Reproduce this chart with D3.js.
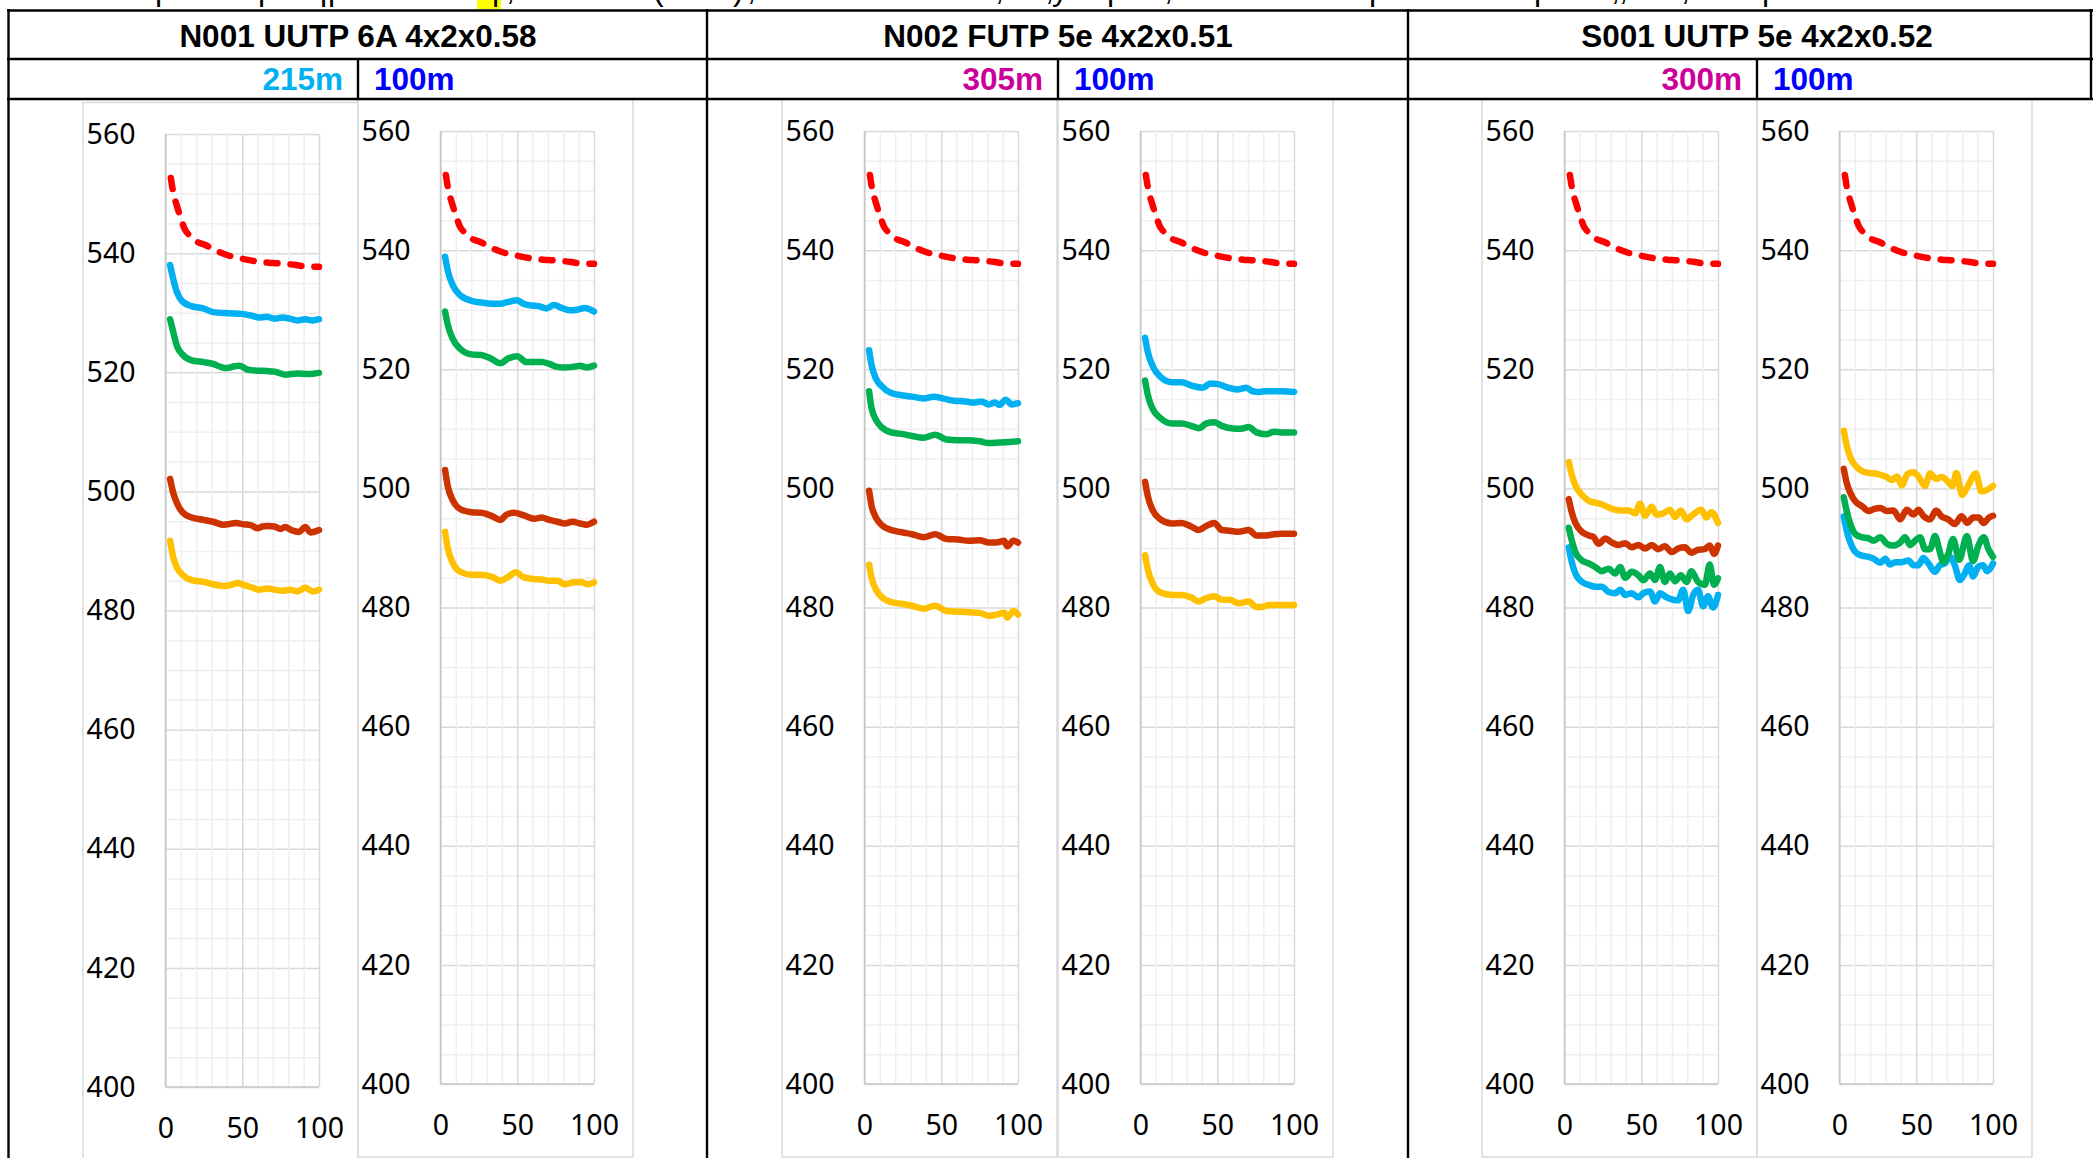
<!DOCTYPE html>
<html>
<head>
<meta charset="utf-8">
<script src="https://cdn.jsdelivr.net/npm/d3@7"></script>
<style>
	body { margin: 0; background: #fff; overflow: hidden; }
	svg { display: block; }
</style>
</head>
<body>
<div id="sheet"></div>
<script>
// ---- data (x = 0..100, y = 400..560) ----
const titles = ["N001 UUTP 6A 4x2x0.58", "N002 FUTP 5e 4x2x0.51", "S001 UUTP 5e 4x2x0.52"];
const lengthLeft = ["215m", "305m", "300m"];
const lengthLeftColor = ["#00b0f0", "#cc0099", "#cc0099"];
const lengthRight = ["100m", "100m", "100m"];
const yTicks = [400, 420, 440, 460, 480, 500, 520, 540, 560];
const xTicks = [0, 50, 100];

// limit curve, same in every chart
const limitLine = [[3.5,552.6],[5.5,549.6],[7,548.3],[10.7,545.3],[12.4,544.1],[16,542.9],[19.9,542],[25.6,541.4],[34.8,540.2],[41,539.6],[51,539],[57,538.7],[67,538.4],[73,538.3],[85,538],[90,537.8],[100,537.7]];

// N001 215m
const n001aBlue = [[3,538],[5,535.7],[7.5,533.4],[11,531.9],[17,531.1],[25,530.7],[31,530.1],[41,529.9],[50,529.8],[56,529.5],[61,529.2],[66,529.3],[71,529],[76,529.2],[81,529],[86,528.7],[91,528.9],[96,528.7],[100,528.9]];
const n001aGreen = [[3,528.9],[5,526.8],[7.5,524.4],[11,523],[17,522],[25,521.7],[31,521.4],[36,520.9],[40,520.7],[45,521],[48,521.1],[53,520.5],[58,520.3],[66,520.2],[71,520.1],[78,519.6],[86,519.8],[93,519.7],[100,519.9]];
const n001aBrown = [[3,502.1],[5,499.8],[7.5,498],[11,496.5],[17,495.6],[25,495.2],[31,494.9],[38,494.4],[46,494.7],[50,494.5],[56,494.3],[60,493.8],[63,494.1],[67,494.2],[71,494.1],[75,493.7],[78,494],[82,493.5],[87,493.2],[91,494],[94.5,493.1],[100,493.5]];
const n001aYellow = [[3,491.7],[5,489],[7.5,487.2],[11,486],[17,485.1],[25,484.8],[31,484.4],[38,484.1],[43,484.3],[47,484.6],[51,484.3],[56,483.9],[61,483.5],[66,483.7],[71,483.5],[76,483.3],[81,483.5],[86,483.2],[91,483.8],[96,483.2],[100,483.5]];

// N001 100m
const n001bBlue = [[3,538.9],[4.7,536.6],[8,534.1],[13,532.4],[20,531.5],[26.6,531.2],[34,531],[39,531],[44,531.3],[50,531.6],[54,531],[59,530.7],[64,530.6],[69,530.2],[74,530.8],[79,530.3],[84,529.9],[89,530],[94,530.3],[100,529.7]];
const n001bGreen = [[3,529.7],[4.7,527.5],[8,525.1],[13,523.4],[20,522.5],[26.6,522.4],[32.8,521.8],[39,521],[44,521.8],[50,522.2],[56,521.2],[61,521.2],[66,521.2],[71,520.9],[76,520.4],[81,520.3],[86,520.4],[91,520.6],[95,520.3],[100,520.6]];
const n001bBrown = [[3,503.1],[4.7,500.4],[8,498],[13,496.5],[20,496],[26.6,495.9],[34,495.3],[39,494.7],[43,495.6],[48,495.9],[54,495.5],[61,494.9],[66,495.1],[71,494.7],[76,494.4],[81,494.1],[86,494.4],[91,494.1],[95,493.9],[100,494.4]];
const n001bYellow = [[3,492.7],[4.7,490],[8,487.5],[13,486],[20,485.5],[26.6,485.5],[34,485.1],[39,484.5],[44,485.1],[49,485.9],[54,485.1],[60,484.8],[66,484.7],[71,484.5],[76,484.5],[81,483.9],[86,484.2],[91,484.3],[96,483.9],[100,484.2]];

// N002 305m
const n002aBlue = [[3,523.2],[4.5,520.8],[7.5,518.4],[11,517.2],[17.4,516],[25,515.6],[31,515.4],[38.5,515.1],[45,515.4],[51,515.1],[58.5,514.7],[66,514.6],[71,514.4],[76,514.6],[81,514.1],[85,514.4],[88,514],[92,514.9],[96,514.1],[100,514.3]];
const n002aGreen = [[3,516.3],[4.5,513.6],[7.5,511.5],[11,510.3],[17.4,509.4],[25,509.1],[31,508.8],[38.5,508.5],[46,509],[53.5,508.2],[61,508.1],[68,508.1],[75,507.9],[81,507.6],[88,507.7],[94.5,507.8],[100,507.9]];
const n002aBrown = [[3,499.6],[4.5,497.2],[7.5,495.1],[11,493.9],[17.4,493],[25,492.6],[31,492.3],[38.5,491.8],[46,492.3],[53.5,491.5],[61,491.4],[68,491.2],[75,491.3],[81,490.9],[86,490.9],[91,491.2],[93,490.3],[97,491.2],[100,490.9]];
const n002aYellow = [[3,487.2],[4.5,485.1],[7.5,483],[11,481.8],[17.4,480.9],[25,480.6],[31,480.3],[38.5,479.8],[46,480.3],[53.5,479.4],[61,479.3],[68,479.2],[75,479.1],[81,478.6],[86,478.8],[91,479.1],[93,478.3],[97,479.4],[100,478.8]];

// N002 100m
const n002bBlue = [[3,525.3],[4.75,522.9],[8,520.5],[13,518.7],[20.5,517.8],[26.75,517.8],[34,517.2],[40.5,516.9],[45.5,517.6],[50.5,517.5],[57,516.9],[63,516.6],[69,516.9],[73,516.3],[77,516.2],[82,516.3],[87,516.3],[92,516.3],[100,516.2]];
const n002bGreen = [[3,518.1],[4.75,515.7],[8,513.3],[13,511.8],[20.5,510.9],[26.75,510.9],[33,510.5],[38,510.1],[43,510.9],[48,511.1],[53,510.5],[59,510.1],[65.5,510],[70.5,510.3],[75.5,509.4],[82,509.1],[87,509.5],[92,509.4],[100,509.4]];
const n002bBrown = [[3,501.1],[4.75,498.7],[8,496.3],[13,494.8],[20.5,494.1],[26.75,494.2],[33,493.6],[38,493],[43,493.7],[48,494.2],[53,493],[58,492.9],[64,492.7],[70.5,493],[75.5,492.1],[82,492.1],[87,492.3],[92,492.4],[100,492.4]];
const n002bYellow = [[3,488.8],[4.75,486.4],[8,484],[13,482.5],[20.5,482.1],[26.75,482.1],[33,481.7],[38,481],[43,481.6],[48,481.9],[53,481.3],[58,481.3],[64,480.7],[70.5,481],[75.5,480.1],[79,480.1],[84,480.4],[89,480.4],[100,480.4]];

// S001 300m
const s001aYellow = [[2.8,504.4],[4.5,502.5],[7.1,500.5],[11.4,498.9],[15.8,497.9],[20,497.6],[24.4,497.3],[28.7,496.8],[33,496.4],[37.4,496.3],[41.7,496.3],[46,495.8],[49.2,497.4],[52.5,495.4],[56.8,496.9],[60,495.6],[64.4,495.8],[68.7,496.4],[72,495.2],[75.8,496.3],[79.5,494.8],[83.8,495.6],[89.2,496.4],[92.4,495.1],[95.7,496],[100,494.2]];
const s001aBrown = [[2.8,498.2],[4.5,496.2],[7.1,494.2],[11.4,492.7],[15.8,492.1],[19,491.8],[22.2,490.7],[26.6,491.6],[30.9,490.9],[35.2,490.5],[39.5,490.8],[43.8,490.1],[48.2,490.5],[52.5,489.9],[56.8,490.5],[61.1,489.8],[65.4,490.3],[69.8,489.3],[74,489.9],[78.4,490.1],[82.7,489.2],[87,489.7],[91.4,489.8],[94.6,490.4],[97.4,489],[100,490.4]];
const s001aGreen = [[2.8,493.4],[4.5,491.5],[7.1,489.3],[11.4,487.9],[15.8,487.4],[20,486.8],[24.4,486.1],[28.7,486.5],[33,485.7],[36.3,486.8],[39.5,485],[43.8,486],[48.2,485.4],[51.4,484.6],[55.7,485.7],[59,484.6],[62.2,486.8],[65.4,484.3],[68.7,485.7],[72,484.4],[75.8,485.4],[79.5,484.3],[82.7,486.1],[87,484.3],[91.4,483.8],[94.6,487.2],[97.4,483.8],[100,484.9]];
const s001aBlue = [[2.8,490.1],[4.5,487.9],[7.1,485.7],[11.4,484.3],[15.8,483.8],[20,483.5],[24.4,483.5],[28.7,482.6],[33,482.4],[36.3,483],[39.5,482.1],[43.8,482.4],[48.2,481.7],[51.4,482.4],[55.7,482.7],[59,481],[62.2,482.4],[66.5,481.7],[70.8,481.3],[74,481.2],[77.3,483],[80.6,479.4],[83.8,482.1],[87,483],[90.3,480.2],[93.5,481.9],[96.8,480],[100,482.1]];

// S001 100m
const s001bYellow = [[2.8,509.7],[4.5,507.4],[7.1,505.2],[10.4,503.8],[14.7,502.9],[19,502.6],[23.3,502.5],[27.6,502.2],[30.9,501.9],[34.1,501.4],[37.4,502],[40.6,500.5],[44.3,502.4],[48.2,502.7],[51.4,502],[55.7,500.4],[59,502.5],[62.9,501.6],[66.5,501.9],[70.8,501.1],[73.6,500.4],[76.2,502.6],[79.9,498.9],[83.8,500.5],[88.8,502.5],[92.4,499.5],[95.7,499.7],[100,500.4]];
const s001bBrown = [[2.8,503.3],[4.5,501.1],[7.1,499.2],[10.4,497.8],[14.7,497],[19,496.2],[22.2,496.5],[26.6,496.7],[30.9,496.2],[35.2,496.3],[39.5,494.8],[43.8,496.4],[48.2,495.6],[51.4,496.4],[54.6,495.4],[59,494.8],[62.9,496.3],[66.5,495.3],[70.8,494.8],[75.1,494],[79.5,495.3],[83.3,494.2],[87,495.1],[90.7,495.1],[93.9,494.2],[97.4,495.1],[100,495.4]];
const s001bGreen = [[2.8,498.5],[4.5,496.4],[7.1,494],[10.4,492.3],[14.7,491.8],[19,491.6],[22.2,491.2],[26.6,491.8],[30.9,490.7],[35.2,490.4],[39.5,490.9],[42.7,491.8],[46,490.5],[49.2,491.2],[52.5,491.8],[55.7,489.8],[59,489.8],[62.2,492],[65.4,489.3],[67.6,487.6],[70.8,489],[74,491.5],[78,488],[83,492],[87,487.8],[90.5,490.4],[94,491.8],[97,489.8],[100,488.5]];
const s001bBlue = [[2.8,495.3],[4.5,493.1],[7.1,490.9],[10.4,489.3],[14.7,488.7],[19,488.5],[22.2,488.2],[26.6,487.5],[29.8,488.2],[33,487.2],[36.3,487.6],[40.6,487.6],[44.9,487.9],[48.2,487.1],[51.4,487.1],[54.6,488.3],[57.9,487.4],[62.2,486],[65.4,487.1],[68.7,487.4],[71.9,488.5],[75.1,487.1],[78.4,484.6],[81.6,485.7],[84.4,487.1],[87,485.2],[90.3,486.8],[93.5,487.1],[96.1,486.1],[100,487.4]];

// the clipped line of text above the table (only descenders show)
const topMarks = [[155,"p"],[258,"p"],[320,"p"],[328,"p"],[492,"p"],[506,","],[653,"("],[733,")"],[747,","],[995,","],[1045,","],[1052,"y"],[1107,"p"],[1164,","],[1369,"p"],[1534,"p"],[1611,","],[1619,","],[1681,","],[1762,"p"]];

// ---- layout ----
const width = 2093;
const height = 1158;

const colors = { blue: "#00b0f0", green: "#00b050", brown: "#cc3300", yellow: "#ffc000", red: "#ff0000" };

const charts = [
	{ bx: 83, dy: 3, series: [n001aBlue, n001aGreen, n001aBrown, n001aYellow] },
	{ bx: 358, dy: 0, series: [n001bBlue, n001bGreen, n001bBrown, n001bYellow] },
	{ bx: 782, dy: 0, series: [n002aBlue, n002aGreen, n002aBrown, n002aYellow] },
	{ bx: 1058, dy: 0, series: [n002bBlue, n002bGreen, n002bBrown, n002bYellow] },
	{ bx: 1482, dy: 0, series: [s001aBlue, s001aGreen, s001aBrown, s001aYellow] },
	{ bx: 1757, dy: 0, series: [s001bBlue, s001bGreen, s001bBrown, s001bYellow] },
];
const seriesColors = [colors.blue, colors.green, colors.brown, colors.yellow];

const svg = d3
	.select("#sheet")
	.append("svg")
	.attr("width", width)
	.attr("height", height);

svg.append("rect").attr("width", width).attr("height", height).attr("fill", "#fff");

// clipped text strip at the very top
svg.append("rect")
	.attr("x", 477).attr("y", 0).attr("width", 24).attr("height", 9)
	.attr("fill", "#ffff00");
svg.selectAll("text.top")
	.data(topMarks)
	.enter()
	.append("text")
	.attr("class", "top")
	.attr("x", (d) => d[0])
	.attr("y", 0)
	.attr("font-family", "Liberation Sans, Arial, sans-serif")
	.attr("font-size", 32)
	.text((d) => d[1]);

// charts
charts.forEach((c, i) => {
	const top = 131 + c.dy;
	const bottom = 1084 + c.dy;
	const left = c.bx + 82.5;
	const right = c.bx + 236;

	const g = svg.append("g");

	// chart area frame
	g.append("rect")
		.attr("x", c.bx)
		.attr("y", 99.5 + c.dy)
		.attr("width", 275)
		.attr("height", 1057.5)
		.attr("fill", "#fff")
		.attr("stroke", "#d9d9d9")
		.attr("stroke-width", 1.5);

	const x = d3.scaleLinear().domain([0, 100]).range([left, right]);
	const y = d3.scaleLinear().domain([400, 560]).range([bottom, top]);

	// minor + major gridlines
	const hGrid = g.append("g")
		.attr("transform", `translate(${left},0)`)
		.call(d3.axisLeft(y).tickValues(d3.range(400, 561, 5)).tickSize(-(right - left)).tickFormat(""));
	hGrid.select(".domain").remove();
	hGrid.selectAll(".tick line")
		.attr("stroke", (d) => (d % 20 === 0 ? "#d9d9d9" : "#efefef"))
		.attr("stroke-width", 1.5);

	const vGrid = g.append("g")
		.attr("transform", `translate(0,${bottom})`)
		.call(d3.axisBottom(x).tickValues(d3.range(0, 101, 10)).tickSize(-(bottom - top)).tickFormat(""));
	vGrid.select(".domain").remove();
	vGrid.selectAll(".tick line")
		.attr("stroke", (d) => (d % 50 === 0 ? "#d9d9d9" : "#efefef"))
		.attr("stroke-width", 1.5);

	// axis lines
	g.append("line").attr("x1", left).attr("x2", left).attr("y1", top).attr("y2", bottom)
		.attr("stroke", "#c8c8c8").attr("stroke-width", 1.5);
	g.append("line").attr("x1", left).attr("x2", right).attr("y1", bottom).attr("y2", bottom)
		.attr("stroke", "#c8c8c8").attr("stroke-width", 1.5);

	// tick labels
	const yAxis = g.append("g")
		.attr("transform", `translate(${left},0)`)
		.call(d3.axisLeft(y).tickValues(yTicks).tickSize(0).tickPadding(30));
	yAxis.select(".domain").remove();
	yAxis.selectAll("text")
		.attr("font-family", "Noto Sans, sans-serif")
		.attr("font-size", 28.5)
		.attr("fill", "#000");

	const xAxis = g.append("g")
		.attr("transform", `translate(0,${bottom})`)
		.call(d3.axisBottom(x).tickValues(xTicks).tickSize(0).tickPadding(31));
	xAxis.select(".domain").remove();
	xAxis.selectAll("text")
		.attr("font-family", "Noto Sans, sans-serif")
		.attr("font-size", 28.5)
		.attr("fill", "#000");

	const line = d3.line()
		.x((d) => x(d[0]))
		.y((d) => y(d[1]))
		.curve(d3.curveMonotoneX);

	c.series.forEach((s, k) => {
		g.append("path")
			.attr("d", line(s))
			.attr("fill", "none")
			.attr("stroke", seriesColors[k])
			.attr("stroke-width", 6.5)
			.attr("stroke-linejoin", "round")
			.attr("stroke-linecap", "round");
	});

	g.append("path")
		.attr("d", line(limitLine))
		.attr("fill", "none")
		.attr("stroke", colors.red)
		.attr("stroke-width", 6.5)
		.attr("stroke-dasharray", "11,13")
		.attr("stroke-linecap", "round");
});

// table lines
const black = "#000";
[10.5, 59, 99].forEach((yy) => {
	svg.append("line").attr("x1", 7).attr("x2", width).attr("y1", yy).attr("y2", yy)
		.attr("stroke", black).attr("stroke-width", 2.6);
});
[8.5, 707, 1408].forEach((xx) => {
	svg.append("line").attr("x1", xx).attr("x2", xx).attr("y1", 9).attr("y2", height)
		.attr("stroke", black).attr("stroke-width", 2.4);
});
svg.append("line").attr("x1", 2091).attr("x2", 2091).attr("y1", 9).attr("y2", 100)
	.attr("stroke", black).attr("stroke-width", 2.4);
const dividers = [358, 1058, 1757];
dividers.forEach((xx) => {
	svg.append("line").attr("x1", xx).attr("x2", xx).attr("y1", 59).attr("y2", 99)
		.attr("stroke", black).attr("stroke-width", 2.4);
});

// header texts
dividers.forEach((xx, i) => {
	svg.append("text")
		.attr("x", xx).attr("y", 47)
		.attr("text-anchor", "middle")
		.attr("font-family", "Liberation Sans, Arial, sans-serif")
		.attr("font-weight", "bold")
		.attr("font-size", 31.5)
		.text(titles[i]);
	svg.append("text")
		.attr("x", xx - 15).attr("y", 90)
		.attr("text-anchor", "end")
		.attr("font-family", "Liberation Sans, Arial, sans-serif")
		.attr("font-weight", "bold")
		.attr("font-size", 31.5)
		.attr("fill", lengthLeftColor[i])
		.text(lengthLeft[i]);
	svg.append("text")
		.attr("x", xx + 16).attr("y", 90)
		.attr("text-anchor", "start")
		.attr("font-family", "Liberation Sans, Arial, sans-serif")
		.attr("font-weight", "bold")
		.attr("font-size", 31.5)
		.attr("fill", "#0000ff")
		.text(lengthRight[i]);
});
</script>
</body>
</html>
